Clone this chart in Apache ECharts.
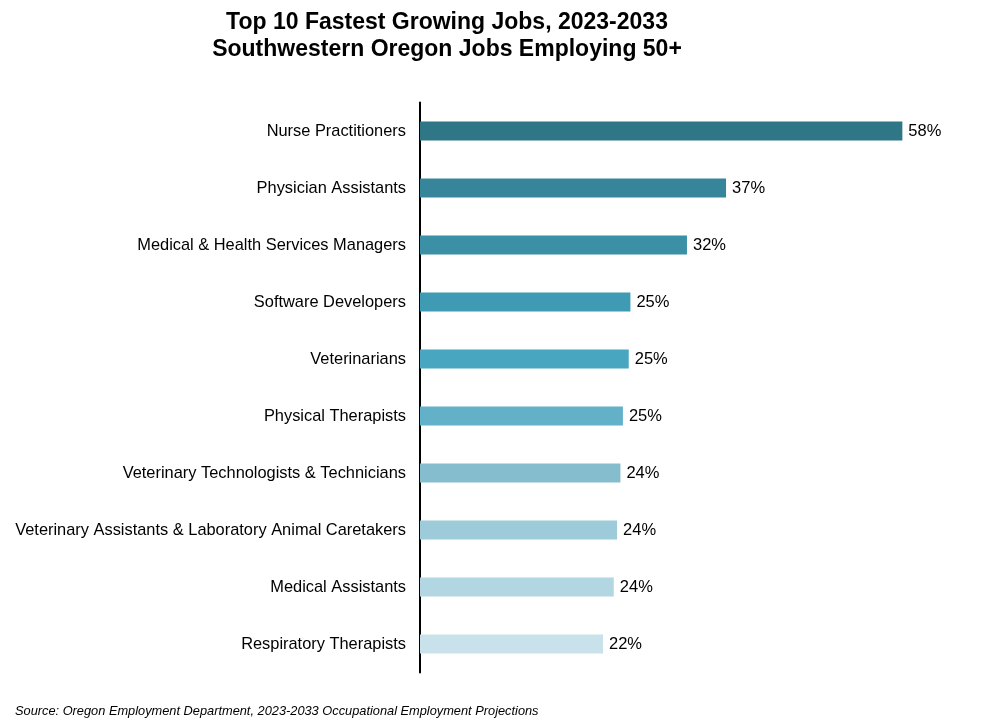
<!DOCTYPE html>
<html><head><meta charset="utf-8">
<script src="https://cdn.jsdelivr.net/npm/echarts@6/dist/echarts.min.js"></script>
<style>html,body{margin:0;background:#fff}#c{width:1000px;height:724px}</style>
</head><body><div id="c"></div>
<script>
const categories = ["Nurse Practitioners","Physician Assistants","Medical & Health Services Managers","Software Developers","Veterinarians","Physical Therapists","Veterinary Technologists & Technicians","Veterinary Assistants & Laboratory Animal Caretakers","Medical Assistants","Respiratory Therapists"];
const values = [58.0, 36.8, 32.1, 25.3, 25.1, 24.4, 24.1, 23.7, 23.3, 22.0];
const labels = ["58%","37%","32%","25%","25%","25%","24%","24%","24%","22%"];
const colors = ["#2f7686","#36859a","#3b90a6","#3f9bb3","#48a6c0","#63b1c8","#86bdce","#9ecbda","#b3d7e2","#c8e1ea"];
const chart = echarts.init(document.getElementById('c'));
chart.setOption({
  animation:false,
  title:[{text:"Top 10 Fastest Growing Jobs, 2023-2033\nSouthwestern Oregon Jobs Employing 50+",left:442,top:4,textAlign:'center',
    textStyle:{fontFamily:'Liberation Sans, Arial',fontWeight:'bold',fontSize:23,lineHeight:27,color:'#000'}},
    {text:"Source: Oregon Employment Department, 2023-2033 Occupational Employment Projections",left:10,top:700,
    textStyle:{fontFamily:'Liberation Sans, Arial',fontStyle:'italic',fontWeight:'normal',fontSize:12.8,color:'#000'}}],
  grid:{left:420,right:81,top:102.5,bottom:51.5},
  xAxis:{type:'value',min:0,max:60,show:false},
  yAxis:{type:'category',data:categories,inverse:true,
    axisLine:{lineStyle:{color:'#000',width:2}},axisTick:{show:false},
    axisLabel:{margin:14,color:'#000',fontSize:16.4,fontFamily:'Liberation Sans, Arial'}},
  series:[{type:'bar',barWidth:19,
    data:values.map((v,i)=>({value:v,itemStyle:{color:colors[i]},
      label:{show:true,position:'right',distance:6,formatter:labels[i],color:'#000',fontSize:16.5,fontFamily:'Liberation Sans, Arial'}}))}]
});
</script></body></html>
